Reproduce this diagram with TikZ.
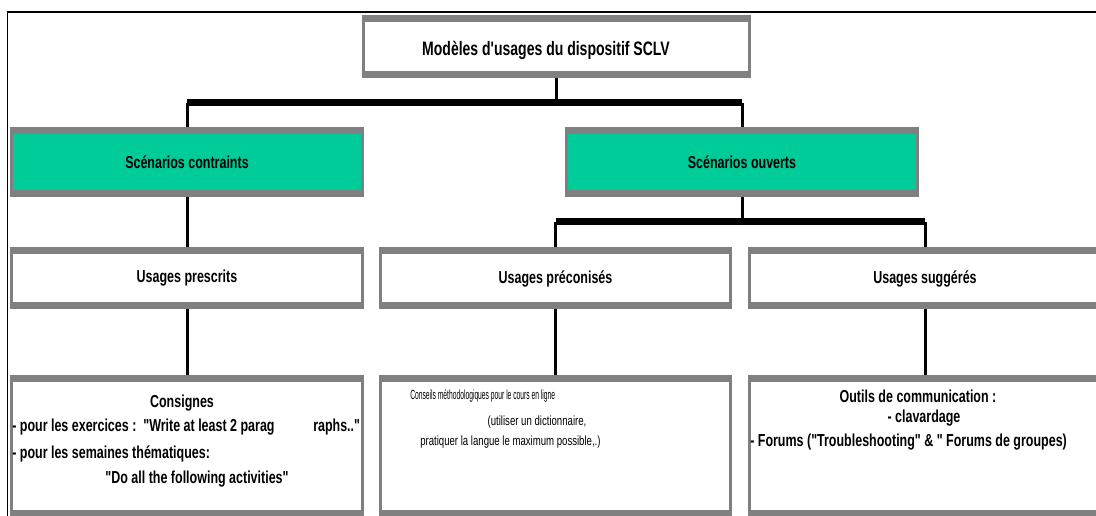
\documentclass[tikz,border=0pt]{standalone}
\usepackage{fontspec}
\setmainfont{Liberation Sans}[FakeStretch=0.72, Ligatures=TeXOff]
\usepackage{graphicx}

\definecolor{framegray}{RGB}{128,128,128}
\definecolor{scgreen}{RGB}{0,204,153}

\tikzset{
	box/.style={draw=framegray, line width=2.25pt, fill=white, inner sep=0pt,
		font=\bfseries\fontsize{13}{15}\selectfont},
	scen/.style={box, fill=scgreen},
	col/.style={minimum width=263pt},
	band/.style={draw=framegray, line width=5.25pt},
	link/.style={line width=2.25pt},
	bar/.style={line width=5.25pt},
	txt/.style={inner sep=0pt, font=\bfseries\fontsize{13}{15}\selectfont},
	thin/.style={inner sep=0pt, font=\fontsize{10}{12}\selectfont}
}

\begin{document}
\begin{tikzpicture}[x=0.75pt,y=-0.75pt]
	\useasboundingbox (0,0) rectangle (1096,516);
	\draw[line width=1.1pt] (7.5,516) -- (7.5,12) -- (1096,12);

	% boxes
	\node[box, minimum width=289.5pt, minimum height=39.75pt] (model) at (556.5,47) {};
	\node[txt, font=\bfseries\fontsize{14.6}{16}\selectfont] (modeltxt) at (546,50) {Modèles d'usages du dispositif SCLV};
	\node[scen, col, minimum height=45pt] (sc) at (187,162.5) {Scénarios contraints};
	\node[scen, col, minimum height=45pt] (so) at (742,162.5) {Scénarios ouverts};
	\node[box, col, minimum height=39pt] (up) at (187,278.5) {Usages prescrits};
	\node[box, col, minimum height=39pt] (uc) at (555.5,278.5) {Usages préconisés};
	\node[box, col, minimum height=39pt] (us) at (925,278.5) {Usages suggérés};
	\node[box, col, minimum height=98.25pt] (bp) at (187,446) {};
	\node[box, col, minimum height=98.25pt] (bc) at (555.5,446) {};
	\node[box, col, minimum height=98.25pt] (bs) at (925,446) {};

	% connectors
	\coordinate (j1) at (0,103);
	\coordinate (j2) at (0,222);
	\draw[link] (model.south) -- (model.south |- j1);
	\draw[bar] (sc.north |- j1) -- (so.north |- j1);
	\draw[link] (sc.north |- j1) -- (sc.north);
	\draw[link] (so.north |- j1) -- (so.north);
	\draw[link] (sc.south) -- (up.north);
	\draw[link] (so.south) -- (so.south |- j2);
	\draw[bar] (uc.north |- j2) -- (us.north |- j2);
	\draw[link] (uc.north |- j2) -- (uc.north);
	\draw[link] (us.north |- j2) -- (us.north);
	\draw[link] (up.south) -- (bp.north);
	\draw[link] (uc.south) -- (bc.north);
	\draw[link] (us.south) -- (bs.north);

	\foreach \n in {model,sc,so,up,uc,us,bp,bc,bs}
		\draw[band] (\n.north west) -- (\n.north east) (\n.south west) -- (\n.south east);

	% texts
	\node[txt] (cons) at (182,403) {Consignes};
	\node[txt, anchor=west] (cons1) at (12,427) {- pour les exercices :\ \ "Write at least 2 parag\hspace{29pt}raphs.."};
	\node[txt, anchor=west] (cons2) at (12,454) {- pour les semaines thématiques:};
	\node[txt] (cons3) at (197,479) {"Do all the following activities"};

	\node[thin, anchor=west] (cm) at (410,396) {\scalebox{0.7}[1]{Conseils méthodologiques pour le cours en ligne}};
	\node[thin] (cm1) at (537,422) {(utiliser un dictionnaire,};
	\node[thin, anchor=west] (cm2) at (420,442) {pratiquer la langue le maximum possible,.)};

	\node[txt] (outils) at (918,396) {Outils de communication :};
	\node[txt] (outils1) at (924,418) {- clavardage};
	\node[txt, anchor=west] (outils2) at (750,442) {- Forums ("Troubleshooting" \& " Forums de groupes)};
\end{tikzpicture}
\end{document}
